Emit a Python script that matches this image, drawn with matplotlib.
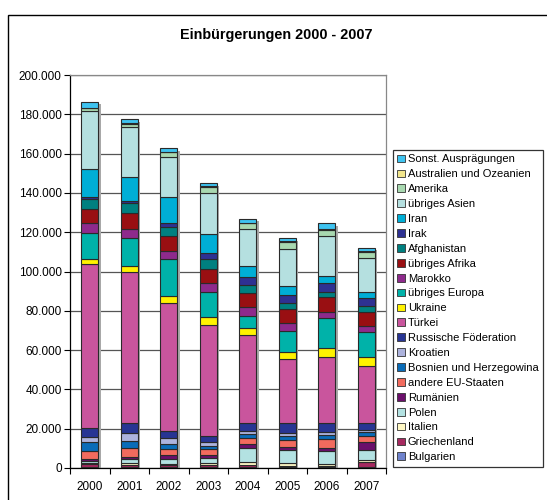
import matplotlib
matplotlib.use("Agg")
import matplotlib.pyplot as plt
import matplotlib.transforms as mtransforms
from matplotlib.patches import Rectangle, Patch
from matplotlib.ticker import FuncFormatter, FixedLocator
import numpy as np

plt.rcParams['font.family'] = ['Liberation Sans', 'DejaVu Sans']

years = ['2000', '2001', '2002', '2003', '2004', '2005', '2006', '2007']

# series, bottom -> top
bulgarien    = [300, 300, 300, 300, 300, 300, 300, 300]
griechenland = [1500, 1400, 1100, 1100, 1200, 600, 600, 2600]
italien      = [900, 1000, 800, 1000, 1700, 1700, 1200, 1200]
polen        = [1000, 1700, 2500, 2900, 7100, 6400, 6800, 5100]
rumaenien    = [1000, 1300, 1700, 1400, 1700, 1800, 1400, 3900]
andere_eu    = [4100, 4300, 3400, 3000, 3400, 3700, 4600, 3400]
bosnien      = [4200, 3700, 2500, 1700, 1900, 2000, 2000, 1700]
kroatien     = [3000, 3900, 3000, 2000, 1700, 1400, 1400, 1200]
russland     = [4600, 5100, 3600, 2900, 4100, 5200, 4700, 3700]
tuerkei      = [83000, 76900, 65200, 56500, 44600, 32200, 33300, 28800]
ukraine      = [2900, 3400, 3600, 3900, 3700, 3900, 4600, 4400]
ueb_europa   = [13000, 13900, 18700, 13000, 6100, 10700, 15300, 13000]
marokko      = [5000, 4600, 4100, 4300, 4300, 3800, 3400, 3100]
ueb_afrika   = [7400, 8100, 7800, 7400, 7400, 7300, 7600, 7100]
afghanistan  = [4800, 5100, 4600, 4900, 4100, 3200, 2500, 2900]
irak         = [1000, 1200, 1700, 3200, 3800, 3900, 4300, 4200]
iran         = [14400, 12000, 13200, 9500, 5900, 4600, 3700, 3100]
ueb_asien    = [29400, 25400, 20700, 21200, 18700, 18800, 20500, 17300]
amerika      = [1500, 2000, 2200, 3000, 2900, 3600, 2900, 3100]
australien   = [300, 300, 300, 300, 300, 300, 300, 300]
sonst        = [3000, 1900, 1700, 1500, 1900, 1600, 3100, 1700]

labels = ['Bulgarien', 'Griechenland', 'Italien', 'Polen', 'Rumänien',
          'andere EU-Staaten', 'Bosnien und Herzegowina', 'Kroatien',
          'Russische Föderation', 'Türkei', 'Ukraine', 'übriges Europa',
          'Marokko', 'übriges Afrika', 'Afghanistan', 'Irak', 'Iran',
          'übriges Asien', 'Amerika', 'Australien und Ozeanien',
          'Sonst. Ausprägungen']
series = [bulgarien, griechenland, italien, polen, rumaenien, andere_eu,
          bosnien, kroatien, russland, tuerkei, ukraine, ueb_europa, marokko,
          ueb_afrika, afghanistan, irak, iran, ueb_asien, amerika,
          australien, sonst]
colors = ['#6E82CC', '#A6295F', '#FFF8C4', '#B3E2E2', '#6B0F6B',
          '#F26B5E', '#0A6CB8', '#ADB3DD', '#283593', '#C9559D',
          '#FFF200', '#00B2A9', '#8E2A8C', '#990F12', '#008080',
          '#2E3192', '#00AED6', '#B5E0E0', '#A8D8B0', '#F2E68C',
          '#3EC3F0']

fig = plt.figure(figsize=(5.47, 5.0), dpi=100)
W, H = 547.0, 500.0
ax = fig.add_axes([70 / W, 1 - 468 / H, (386 - 70) / W, (468 - 75) / H])

# outer chart border
fig.patches.append(Rectangle((8 / W, -0.05), 1.2, 1 - 15 / H + 0.05,
                             transform=fig.transFigure, fill=False,
                             edgecolor='black', linewidth=1.0, zorder=0))

x = np.arange(len(years))
bw = 0.43
totals = np.sum(np.array(series), axis=0)

# shadow
shadow_tr = mtransforms.offset_copy(ax.transData, fig=fig, x=2.5, y=-2.5, units='dots')
ax.bar(x, totals, bw, color='#a8a8a8', edgecolor='none', transform=shadow_tr, zorder=2)

bottom = np.zeros(len(years))
handles = []
for vals, lab, col in zip(series, labels, colors):
    ax.bar(x, vals, bw, bottom=bottom, color=col, edgecolor='#2a2a2a',
           linewidth=0.8, zorder=3)
    bottom += np.array(vals)
    handles.append(Patch(facecolor=col, edgecolor='#333333', linewidth=0.6, label=lab))

ax.set_xlim(-0.5, len(years) - 0.5)
ax.set_ylim(0, 200000)
ax.yaxis.set_major_locator(FixedLocator(np.arange(0, 200001, 20000)))
ax.yaxis.set_major_formatter(FuncFormatter(lambda v, p: f"{int(v):,}".replace(',', '.')))
ax.set_xticks(x)
ax.set_xticklabels(years)
ax.set_xticks(np.arange(-0.5, len(years) + 0.5, 1), minor=True)
ax.tick_params(axis='x', which='major', length=0, labelsize=8.5, pad=9)
ax.tick_params(axis='x', which='minor', length=4, width=0.8, color='black')
ax.tick_params(axis='y', length=4, width=0.8, labelsize=8.5, pad=2)

ax.grid(axis='y', color='#555555', linewidth=0.9, zorder=1)
ax.set_axisbelow(True)
for s in ['top', 'right']:
    ax.spines[s].set_color('#888888')
    ax.spines[s].set_linewidth(0.9)
for s in ['left', 'bottom']:
    ax.spines[s].set_color('black')
    ax.spines[s].set_linewidth(0.9)

fig.text(276 / W, 1 - 35 / H, 'Einbürgerungen 2000 - 2007', ha='center', va='center',
         fontsize=10.4, fontweight='bold')

leg = fig.legend(handles[::-1], labels[::-1], loc='upper left',
                 bbox_to_anchor=(393 / W, 1 - 150 / H), bbox_transform=fig.transFigure,
                 fontsize=8.0, frameon=True, fancybox=False, shadow=False,
                 handlelength=0.7, handleheight=0.7, handletextpad=0.25,
                 labelspacing=0.44, borderpad=0.4, borderaxespad=0)
leg.get_frame().set_edgecolor('black')
leg.get_frame().set_linewidth(0.9)

fig.savefig('out.png', dpi=100)
